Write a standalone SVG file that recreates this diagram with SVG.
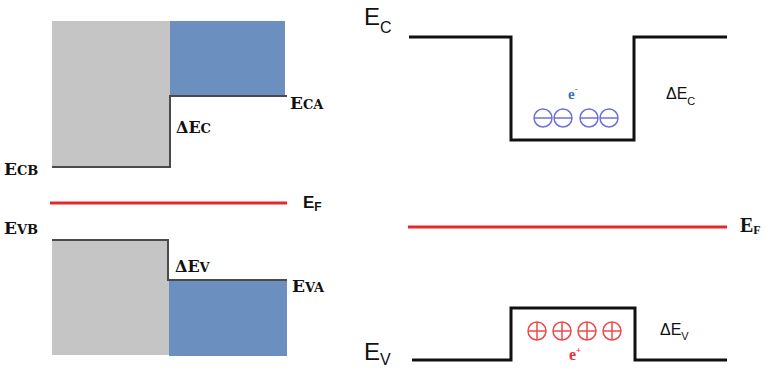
<svg xmlns="http://www.w3.org/2000/svg" width="765" height="370" viewBox="0 0 765 370">
<style>
.gray{fill:#c5c5c5}
.blue{fill:#6b8fbf}
.edge{fill:none;stroke:#4a4a4a;stroke-width:2}
.band{fill:none;stroke:#111;stroke-width:3;stroke-linejoin:miter}
.fermi{stroke:#e8262a;stroke-width:3}
.pap{font-family:"DejaVu Serif",serif;font-weight:bold;fill:#111}
.sans{font-family:"Liberation Sans",Arial,sans-serif;fill:#111}
.elec{fill:none;stroke:#6f6fe0;stroke-width:1.5}
.hole{fill:none;stroke:#ee4a4a;stroke-width:1.5}
</style>
<rect width="765" height="370" fill="#fff"/>
<g id="left-conduction">
<rect class="gray" x="52" y="21" width="118" height="146"/>
<rect class="blue" x="170" y="21" width="115" height="75"/>
</g>
<g id="left-valence">
<rect class="gray" x="52" y="240" width="117" height="115"/>
<rect class="blue" x="169" y="280" width="118" height="76"/>
</g>
<g id="connectors">
<path class="edge" d="M52 167 H170 V96 H287"/>
<path class="edge" d="M52 240 H168 V280 H287"/>
<line class="fermi" x1="50" y1="203" x2="287" y2="203"/>
<path class="band" d="M409 37 H511 V140 H634 V37 H727"/>
<line class="fermi" x1="408" y1="227" x2="727" y2="227"/>
<path class="band" d="M412 360 H511 V308 H635 V360 H727"/>
</g>
<g id="left-labels">
<text class="pap" x="4" y="175" font-size="17">E<tspan font-size="13">CB</tspan></text>
<text class="pap" x="290" y="109" font-size="17">E<tspan font-size="13">CA</tspan></text>
<text class="pap" x="176" y="133" font-size="16">ΔE<tspan font-size="13">C</tspan></text>
<text class="pap" x="4" y="234" font-size="17">E<tspan font-size="13">VB</tspan></text>
<text class="pap" x="175" y="272" font-size="16">ΔE<tspan font-size="13">V</tspan></text>
<text class="pap" x="292" y="292" font-size="17">E<tspan font-size="13">VA</tspan></text>
<text class="sans" x="303" y="208" font-size="17" font-weight="bold">E<tspan font-size="12" dy="3">F</tspan></text>
</g>
<g id="right-labels">
<text class="sans" x="364" y="25" font-size="24">E<tspan font-size="16" dy="8">C</tspan></text>
<text class="sans" x="666" y="99" font-size="16">ΔE<tspan font-size="11" dy="6">C</tspan></text>
<text class="sans" x="364" y="360" font-size="24">E<tspan font-size="16" dy="5">V</tspan></text>
<text class="sans" x="660" y="335" font-size="16">ΔE<tspan font-size="11" dy="5">V</tspan></text>
<text x="740" y="232" font-family="'Liberation Serif',serif" font-weight="bold" font-size="20" fill="#111">E<tspan font-size="12" dy="2">F</tspan></text>
</g>
<g id="electrons">
<text x="568" y="99" font-family="'Liberation Serif',serif" font-weight="bold" font-size="15" fill="#3a72b8">e<tspan font-size="9" dy="-7">-</tspan></text>
<g class="elec">
<circle cx="543" cy="118" r="9"/><line x1="534" y1="118" x2="552" y2="118"/>
<circle cx="563" cy="118" r="9"/><line x1="554" y1="118" x2="572" y2="118"/>
<circle cx="589" cy="118" r="9"/><line x1="580" y1="118" x2="598" y2="118"/>
<circle cx="609" cy="118" r="9"/><line x1="600" y1="118" x2="618" y2="118"/>
</g>
</g>
<g id="holes">
<g class="hole">
<circle cx="537" cy="331" r="9"/><path d="M528 331 H546 M537 322 V340"/>
<circle cx="562" cy="331" r="9"/><path d="M553 331 H571 M562 322 V340"/>
<circle cx="587" cy="331" r="9"/><path d="M578 331 H596 M587 322 V340"/>
<circle cx="612" cy="331" r="9"/><path d="M603 331 H621 M612 322 V340"/>
</g>
<text x="569" y="360" font-family="'Liberation Serif',serif" font-weight="bold" font-size="16" fill="#ee3030">e<tspan font-size="9" dy="-7">+</tspan></text>
</g>
</svg>
